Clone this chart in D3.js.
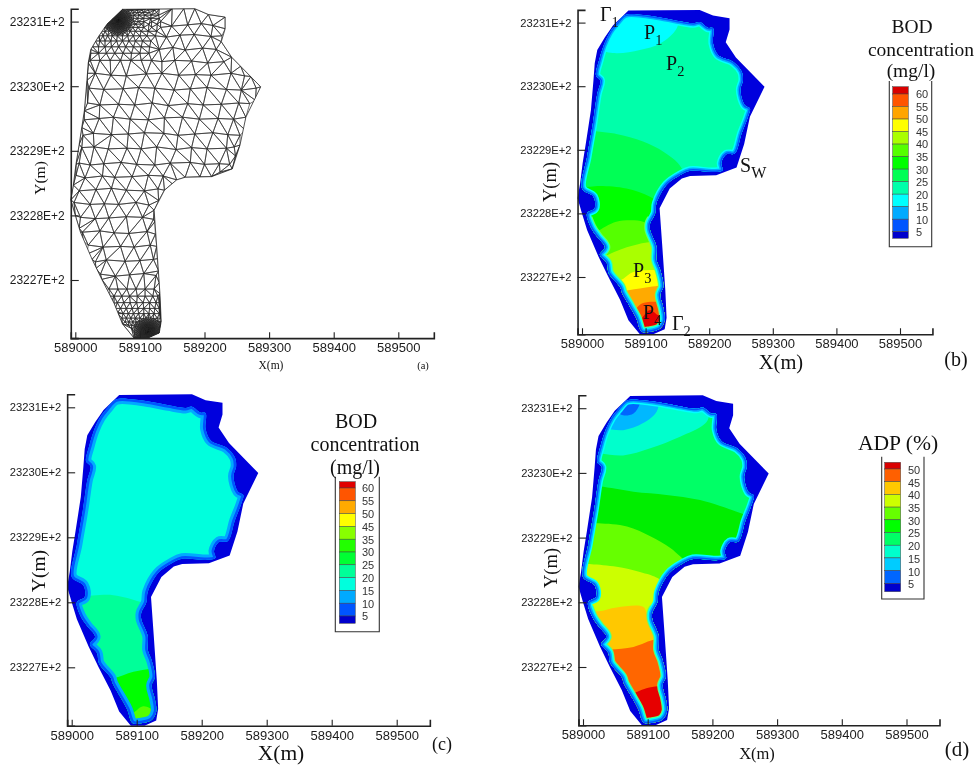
<!DOCTYPE html>
<html><head><meta charset="utf-8">
<script src="https://cdn.jsdelivr.net/npm/d3@7"></script>
<style>
html,body{margin:0;padding:0;background:#fff}
svg{display:block;filter:blur(0.35px)}
.tk{font-family:"Liberation Sans",Arial,sans-serif;fill:#1c1c1c}
.sf{font-family:"Liberation Serif","Times New Roman",serif;fill:#111}
</style></head><body>
<svg id="c" width="977" height="767"></svg>
<script>
// All geometry in metres: x east of 589000, y north of 23227E+2.
const xTickValues=[0,100,200,300,400,500];
const yTickValues=[0,100,200,300,400];
const xMinorValues=d3.range(0,541,20);
const yMinorValues=d3.range(-80,421,20);

const domainOutline=[[73,419],[185,420],[206,411],[232,407],[232,389],[226,369],[242,345],[287,299],[264,252],[255,209],[243,172],[211,160],[170,159],[157,155],[138,139],[122,108],[126,52],[131,-21],[133,-64],[130,-82],[112,-90],[91,-90],[73,-68],[60,-36],[41,1],[26,32],[8,74],[0,100],[-7,124],[-3,147],[1,179],[6,210],[10,236],[14,262],[18,309],[20,336],[24,357],[36,377],[49,396]];

const wetCore=[[68,412],[96,412],[123,408],[149,403],[175,399],[185,401],[198,392],[206,391],[206,367],[214,349],[238,338],[251,323],[253,309],[249,294],[256,270],[264,265],[261,252],[251,226],[240,194],[227,193],[219,179],[221,168],[206,165],[170,167],[154,160],[133,145],[117,116],[115,100],[107,84],[107,74],[117,48],[117,27],[123,11],[128,-15],[123,-28],[128,-49],[130,-68],[123,-81],[107,-86],[94,-86],[85,-64],[72,-41],[63,-25],[60,-16],[42,6],[39,22],[28,35],[36,47],[24,63],[14,78],[8,100],[20,108],[18,126],[0,139],[8,189],[17,241],[24,288],[29,309],[22,317],[27,341],[34,364],[44,385],[54,398]];

// Contour bands, painted top to bottom.  Each entry: colour below that curve.
const bandsB=[
 ["#00ffaa",[[13,359],[54,352],[91,357],[123,367],[149,391],[154,425]]],
 ["#00ff55",[[13,230],[54,225],[96,213],[128,197],[151,179],[164,158]]],
 ["#00ff00",[[5,141],[28,143],[70,139],[107,126],[128,110],[133,100]]],
 ["#55ff00",[[28,74],[54,87],[96,87],[107,79]]],
 ["#aaff00",[[28,29],[65,45],[109,55],[123,53]]],
 ["#ffff00",[[40,-5],[60,-5],[81,8],[123,11],[140,11]]],
 ["#ffaa00",[[40,-23],[57,-23],[91,-18],[128,-13],[140,-13]]],
 ["#ff5500",[[60,-60],[73,-60],[96,-41],[128,-39],[140,-39]]],
 ["#e60000",[[70,-70],[88,-70],[107,-52],[120,-60],[140,-60]]]
];
const bandsC=[
 ["#00ff99",[[-10,109],[13,109],[64,111],[105,101],[125,95]]],
 ["#00ff00",[[40,-17],[64,-17],[95,-7],[126,-2],[140,-2]]],
 ["#55ff00",[[70,-73],[90,-73],[110,-60],[128,-66],[140,-66]]]
];
const bandsD=[
 ["#00b8ff",[[0,397],[47,397],[62,389],[78,392],[88,407],[91,425]]],
 ["#00ffcc",[[0,369],[31,369],[62,366],[93,377],[114,395],[119,425]]],
 ["#00ff66",[[0,330],[26,330],[62,327],[104,338],[150,356],[186,374],[194,385],[194,425]]],
 ["#00ee00",[[0,279],[26,279],[78,271],[129,266],[181,258],[243,238],[263,230]]],
 ["#66ff00",[[0,222],[24,222],[68,217],[104,202],[135,184],[150,171],[165,155]]],
 ["#ccff00",[[0,159],[13,159],[52,155],[88,147],[116,137],[124,127]]],
 ["#ffc800",[[0,86],[24,86],[52,92],[93,93],[101,80],[125,80]]],
 ["#ff6600",[[20,27],[42,27],[78,31],[111,42],[119,39],[140,39]]],
 ["#e60000",[[50,-43],[70,-43],[98,-33],[119,-30],[135,-38]]]
];

const legendValuesB=[60,55,50,45,40,35,30,25,20,15,10,5];
const legendColorsB=["#d90000","#ff5500","#ffa500","#ffff00","#aaff00","#55ff00","#00ff00","#00ff55","#00ffaa","#00ffff","#00aaff","#0055ff","#0000cc"];
const legendValuesC=[60,55,50,45,35,30,25,20,15,10,5];
const legendColorsC=["#e00000","#ff5500","#ffaa00","#ffff00","#88ff00","#22ff00","#00ff33","#00ff99","#00ffdd","#00aaff","#0055ff","#0000cc"];
const legendValuesD=[50,45,40,35,30,25,20,15,10,5];
const legendColorsD=["#d90000","#ff6000","#ffc800","#ccff00","#66ff00","#00ff00","#00ff66","#00ffcc","#00ccff","#0066ff","#0000cc"];

// Mesh nodes: rows of [y, x, x, ...]
const meshRowsCoarse=[
 [395,150,172,195,215],[378,140,162,185,208,228],[358,130,150,172,196,218],
 [338,133,155,178,205,232],[318,30,55,80,108,135,160,185,212,240,262],
 [296,20,45,72,98,125,152,178,205,232,258,280],[272,18,40,66,92,118,145,172,198,228,252,270],
 [250,15,35,60,85,112,140,165,192,220,246,262],[226,12,30,55,82,108,135,160,185,212,238,254],
 [204,10,28,52,78,102,128,155,180,205,232,247],[180,6,22,46,70,95,122,148,176,200,225,238],
 [160,1,16,40,62,88,112,138],[140,5,32,55,80,105,128],[118,0,22,45,68,92,115],
 [96,8,30,54,78,104,120],[74,12,36,60,85,110],[52,20,44,68,92,116],[30,30,50,76,100,120],
 [8,40,60,84,108,124]
];
const meshJogX=[1,-1,2,0,-2,1,0,-1,2,-1,0,1,-2,1,0];
const meshJogY=[1,-2,0,2,-1,-2,1,2,-1,0,-1,2,-2,1,-1,0,2];
const meshRowsFine=[
 [418,78,83,89,96,104,113,123],[414,79,84,90,97,105,115,126],[410,80,85,91,98,107,117,129],
 [405,79,84,90,97,106,117,130],[400,79,84,90,97,106,118,132],
 [396,52,56,60,64,68,72,76,81,87,94,103,114,127],[391,45,50,55,60,65,70,76,82,89,97,106,118,132],
 [385,40,46,52,58,64,71,78,85,93,102,113,126],[378,37,43,50,57,65,73,81,90,100,111,124],
 [370,31,38,46,55,64,73,83,93,104,117],[361,27,36,46,56,67,78,90,102,115],
 [351,24,36,48,61,74,87,100,114],[340,23,38,54,70,86,102,118],
 [-14,52,66,80,94,108,122],[-25,48,60,72,84,96,108,120,128],[-35,55,65,75,85,95,105,115,125,130],
 [-44,62,70,79,88,97,106,115,123,130],[-52,66,74,82,90,98,106,114,122,130],
 [-59,72,79,86,93,100,107,114,121,127,132],[-65,77,83,89,94,99,104,122,127,132],
 [-70,82,87,92,97,101,125,130],[-75,87,92,96,100,128],[-80,90,94,98,129],[-85,94,98,128]
];
const meshBoundary=[[263,232],[271,255],[279,278],[256,331],[272,315],[248,192],[224,167],[193,160],[150,149],[129,123],[123,90],[124,71],[127,33],[129,14],[130,-4],[110,420],[130,420],[150,420],[168,420],[14,262],[10,236],[6,210],[6,80],[12,60],[18,40],[32,18],[48,-14],[54,-25],[66,-50],[19,320]];
const clusterTop=[66,402], clusterBottom=[113,-80];
const ringRadii=[1,2,3,4,5,6,7,8,9,10,11,12,13.5,15,17,19,21.5];
const ringNodes=36;

const svg=d3.select("#c");
let uid=0;
const serif=(s,x,y,size,anchor="middle")=>svg.append("text").attr("class","sf").attr("x",x).attr("y",y).attr("font-size",size).attr("text-anchor",anchor).text(s);
function sub(base,s,x,y,size,ratio=0.72){
  const t=svg.append("text").attr("class","sf").attr("x",x).attr("y",y).attr("font-size",size);
  t.append("tspan").text(base);
  t.append("tspan").attr("font-size",size*ratio).attr("dy",size*0.28).text(s);
}

function frame(p){
  const x=d3.scaleLinear().domain([-7,p.xMax]).range([p.x0-7*p.k,p.x0+p.xMax*p.k]);
  const y=d3.scaleLinear().domain([-90,420]).range([p.y0+90*p.k,p.y0-420*p.k]);
  return {x,y};
}
function axes(p,x,y){
  const b=y(-90), l=x(-7);
  const g=svg.append("g");
  const gx=g.append("g").attr("transform",`translate(0,${b})`);
  gx.call(d3.axisBottom(x).tickValues(xMinorValues).tickSize(-3).tickFormat(""));
  gx.call(d3.axisBottom(x).tickValues(xTickValues).tickSize(-6).tickPadding(5).tickFormat(d=>589000+d));
  const gy=g.append("g").attr("transform",`translate(${l},0)`);
  gy.call(d3.axisLeft(y).tickValues(yMinorValues).tickSize(-5).tickFormat(""));
  gy.call(d3.axisLeft(y).tickValues(yTickValues).tickSize(-8).tickPadding(p.yPad||6).tickFormat(d=>`${23227+d/100}E+2`));
  g.selectAll("path.domain").attr("stroke","#222").attr("stroke-width",1.6);
  g.selectAll(".tick line").attr("stroke","#222").attr("stroke-width",1.1);
  gx.selectAll("text").attr("class","tk").attr("font-size",13).attr("fill",null);
  gy.selectAll("text").attr("class","tk").attr("font-size",p.yFont||11.2).attr("fill",null);
}

function meshPanel(p){
  const {x,y}=frame(p);
  const far=(c,r,n)=>Math.hypot(n[0]-c[0],n[1]-c[1])>r;
  const nodes=[...domainOutline,...meshBoundary];
  let j=0;
  meshRowsCoarse.forEach(r=>r.slice(1).forEach(v=>{
    j++;
    nodes.push([v+meshJogX[j%meshJogX.length],r[0]+meshJogY[j%meshJogY.length]]);
  }));
  meshRowsFine.forEach(r=>r.slice(1).forEach(v=>{
    const n=[v,r[0]];
    if(far(clusterTop,23,n)&&far(clusterBottom,23,n)) nodes.push(n);
  }));
  [clusterTop,clusterBottom].forEach(c=>ringRadii.forEach((r,i)=>d3.range(ringNodes).forEach(k=>{
    const a=(k+(i%2)*0.5)/ringNodes*2*Math.PI;
    const n=[c[0]+r*Math.cos(a),c[1]+r*Math.sin(a)];
    if(d3.polygonContains(domainOutline,n)) nodes.push(n);
  })));
  const del=d3.Delaunay.from(nodes);
  const tri=del.triangles, line=d3.line().x(d=>x(d[0])).y(d=>y(d[1]));
  const id="clip"+(uid++);
  svg.append("clipPath").attr("id",id).append("path").attr("d",line(domainOutline)+"Z");
  const g=svg.append("g").attr("clip-path",`url(#${id})`);
  let d="";
  for(let i=0;i<tri.length;i+=3){
    const t=[nodes[tri[i]],nodes[tri[i+1]],nodes[tri[i+2]]];
    const c=[d3.mean(t,e=>e[0]),d3.mean(t,e=>e[1])];
    if(d3.polygonContains(domainOutline,c)) d+=line(t)+"Z";
  }
  g.append("path").attr("d",d).attr("fill","none").attr("stroke","#2a2a2a").attr("stroke-width",0.65);
  svg.append("path").attr("d",line(domainOutline)+"Z").attr("fill","none").attr("stroke","#2a2a2a").attr("stroke-width",0.8);
  axes(p,x,y);
}

function contourPanel(p){
  const {x,y}=frame(p);
  const line=d3.line().x(d=>x(d[0])).y(d=>y(d[1]));
  const smoothClosed=d3.line().x(d=>x(d[0])).y(d=>y(d[1])).curve(d3.curveCatmullRomClosed.alpha(0.5));
  const smooth=d3.line().x(d=>x(d[0])).y(d=>y(d[1])).curve(d3.curveCatmullRom.alpha(0.5));
  const id="clip"+(uid++);
  svg.append("path").attr("d",line(domainOutline)+"Z").attr("fill","#0000dd");
  const coreD=smoothClosed(wetCore);
  svg.append("clipPath").attr("id",id).append("path").attr("d",coreD);
  const g=svg.append("g").attr("clip-path",`url(#${id})`);
  g.append("path").attr("d",coreD).attr("fill",p.base);
  p.bands.forEach(([col,curve])=>{
    const first=curve[0], last=curve[curve.length-1];
    const tail=[[320,last[1]],[320,-140],[-30,-140],[-30,first[1]]].map(q=>`L${x(q[0])},${y(q[1])}`).join("");
    g.append("path").attr("d",smooth(curve)+tail+"Z").attr("fill",col);
  });
  if(p.hotRing){
    const hid="clip"+(uid++);
    svg.append("clipPath").attr("id",hid).append("rect").attr("x",x(-7)).attr("y",y(p.hotRing[2])).attr("width",x(320)-x(-7)).attr("height",y(-90)-y(p.hotRing[2]));
    g.append("g").attr("clip-path",`url(#${hid})`).append("path").attr("d",coreD).attr("fill","none").attr("stroke",p.hotRing[1]).attr("stroke-width",p.hotRing[0]);
  }
  p.rings.forEach(([w,col])=>g.append("path").attr("d",coreD).attr("fill","none").attr("stroke",col).attr("stroke-width",w));
  axes(p,x,y);
}

function legend(l){
  svg.append("path").attr("d",`M${l.x0},${l.top}V${l.bottom}H${l.x1}V${l.top}`).attr("fill","none").attr("stroke","#333").attr("stroke-width",1.1);
  const ly=d3.scalePoint().domain(l.values).range([l.y0,l.y1]);
  l.colors.forEach((c,i)=>{
    const top=i==0?l.sTop:ly(l.values[i-1]);
    const bot=i==l.colors.length-1?l.sBottom:ly(l.values[i]);
    svg.append("rect").attr("x",l.sx).attr("width",l.sw).attr("y",top).attr("height",bot-top).attr("fill",c).attr("stroke","#444").attr("stroke-width",0.5);
  });
  l.values.forEach(v=>svg.append("text").attr("class","tk").attr("x",l.tx).attr("y",ly(v)+l.dy).attr("font-size",11).attr("dominant-baseline","middle").style("fill","#333").text(v));
}

const ringsThin=[[9,"#00ffff"],[6,"#00aaff"],[3,"#0055ff"]];
const ringsThick=[[11,"#00aaff"],[5,"#0055ff"]];
const hot=[11,"#66ff66",95];

meshPanel({x0:75.3,y0:280,k:0.646,xMax:555,yFont:12});
contourPanel({x0:582,y0:277,k:0.636,xMax:551,base:"#00ffff",bands:bandsB,rings:ringsThin,hotRing:hot});
contourPanel({x0:71.7,y0:667.3,k:0.65,xMax:551,base:"#00ffdd",bands:bandsC,rings:ringsThick});
contourPanel({x0:583,y0:667,k:0.647,xMax:551,base:"#0066ff",bands:bandsD,rings:ringsThin,hotRing:hot});

legend({x0:889.3,x1:931.7,top:81,bottom:246.7,sx:892.7,sw:15.6,sTop:86.7,sBottom:238.3,y0:94,y1:231.7,tx:916,dy:1.5,values:legendValuesB,colors:legendColorsB});
legend({x0:335.3,x1:379.3,top:476.7,bottom:631.7,sx:339.3,sw:16,sTop:481.7,sBottom:623.3,y0:488,y1:616,tx:362,dy:1.5,values:legendValuesC,colors:legendColorsC});
legend({x0:881.7,x1:924,top:456.7,bottom:599,sx:884.7,sw:16,sTop:462.3,sBottom:591.7,y0:469,y1:583.3,tx:908,dy:2,values:legendValuesD,colors:legendColorsD});

// Titles
serif("BOD",912,33,19.5); serif("concentration",921,56,19.5); serif("(mg/l)",911,77,19.5);
serif("BOD",356,428,20); serif("concentration",365,451,20); serif("(mg/l)",355,474,20);
serif("ADP (%)",898,450,21.6);

const yTitle=(cx,cy,size)=>svg.append("text").attr("class","sf").attr("transform",`translate(${cx},${cy}) rotate(-90)`).attr("text-anchor","middle").attr("font-size",size).text("Y(m)");
yTitle(45,178,15.5); yTitle(556,182,18.5); yTitle(45,571,19.5); yTitle(557,568,18.5);
serif("X(m)",271,369,11.5); serif("X(m)",781,369,20.5); serif("X(m)",281,760,21.5); serif("X(m)",757,759,16.5);
serif("(a)",423,369,10.5); serif("(b)",956,366,20); serif("(c)",442,750,18); serif("(d)",957,756,21);

sub("Γ","1",600,21,20); sub("P","1",644,39,20); sub("P","2",666,70,20);
sub("P","3",633,277,20); sub("P","4",643,319,20); sub("Γ","2",672,330,20); sub("S","W",740,172,20,0.8);
</script>
</body></html>
